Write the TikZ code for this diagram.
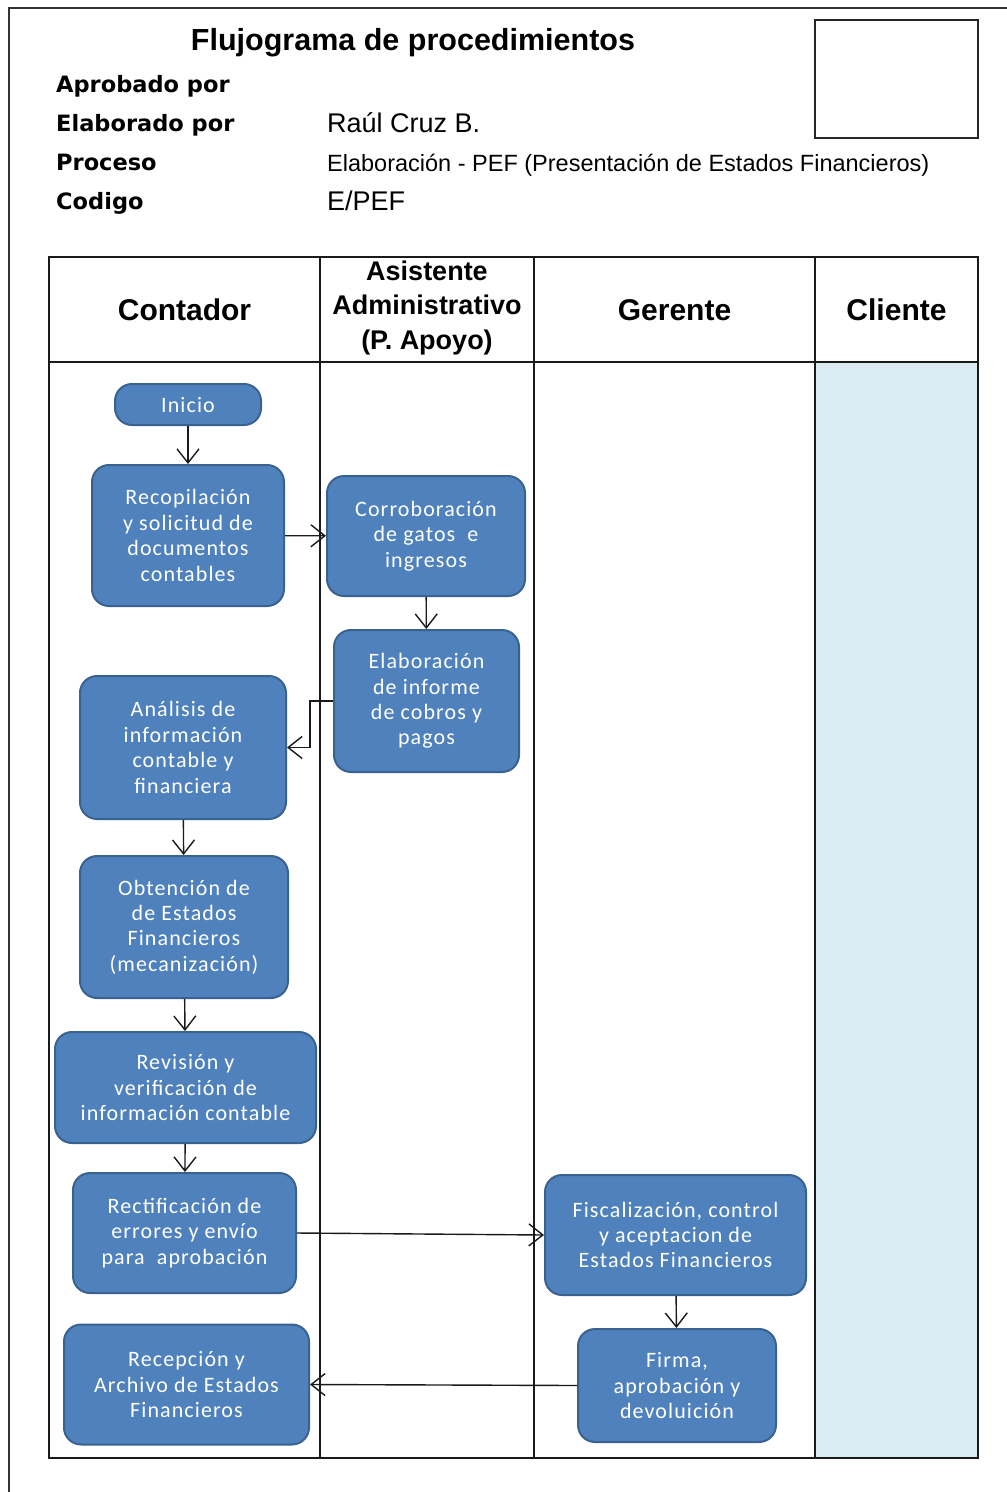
\documentclass[tikz,border=0pt]{standalone}
\usepackage{fontspec}
\usetikzlibrary{arrows.meta}
\setmainfont{Liberation Sans}
\newfontfamily\labelfont{DejaVu Sans}
\newfontfamily\boxfont[LetterSpace=5]{Carlito}
\definecolor{boxblue}{HTML}{4F81BD}
\definecolor{boxedge}{HTML}{3A6290}
\definecolor{clientfill}{HTML}{DAEBF2}
\definecolor{rulegray}{HTML}{1A1A1A}
\tikzset{
  proc/.style={rectangle, rounded corners=17pt, fill=boxblue, draw=boxedge,
    line width=2pt, text=white, align=center, inner sep=0pt,
    font=\boxfont\fontsize{22}{25.4}\selectfont},
  flow/.style={draw=rulegray, line width=1.4pt,
    -{Straight Barb[length=14pt,width=22pt]}},
  lane/.style={draw=rulegray, line width=1.8pt},
  headtxt/.style={font=\bfseries\fontsize{30}{34}\selectfont, align=center, inner sep=0pt},
  fieldname/.style={anchor=base west, inner sep=0pt,
    font=\labelfont\bfseries\fontsize{22.5}{26}\selectfont},
  fieldval/.style={anchor=base west, inner sep=0pt}
}
\begin{document}
\begin{tikzpicture}[x=1pt, y=-1pt]
\useasboundingbox (0,0) rectangle (1007,1492);

% page frame and logo box
\draw[draw=black!80, line width=2pt] (1007,8) -- (9,8) -- (9,1492);
\draw[draw=black!85, line width=2pt] (815,20) rectangle (978,138);

% document header
\node[anchor=base, inner sep=0pt, font=\bfseries\fontsize{30.5}{34}\selectfont] (title) at (413,50) {Flujograma de procedimientos};
\node[fieldname] (fa) at (56,92) {Aprobado por};
\node[fieldname] (fb) at (56,131) {Elaborado por};
\node[fieldname] (fc) at (56,170) {Proceso};
\node[fieldname] (fd) at (56,209) {Codigo};
\node[fieldval, font=\fontsize{27}{30}\selectfont] (vb) at (327,132) {Raúl Cruz B.};
\node[fieldval, font=\fontsize{23.5}{27}\selectfont] (vc) at (327,171) {Elaboración - PEF (Presentación de Estados Financieros)};
\node[fieldval, font=\fontsize{27}{30}\selectfont] (vd) at (327,210) {E/PEF};

% swimlane table
\fill[clientfill] (815,362) rectangle (978,1458);
\draw[lane] (49,257) rectangle (978,1458);
\draw[lane] (49,362) -- (978,362);
\draw[lane] (320,257) -- (320,1458);
\draw[lane] (534,257) -- (534,1458);
\draw[lane] (815,257) -- (815,1458);

\node[headtxt] (hcont) at (184.5,310) {Contador};
\node[headtxt, font=\bfseries\fontsize{27}{34.5}\selectfont] (hasis) at (427,308) {Asistente\\Administrativo\\(P. Apoyo)};
\node[headtxt] (hger) at (674.5,310) {Gerente};
\node[headtxt] (hcli) at (896.5,310) {Cliente};

% process steps
\node[proc, minimum width=146pt, minimum height=41pt] (inicio) at (188,404.5) {Inicio};
\node[proc, minimum width=192pt, minimum height=141pt] (recop) at (188,535.5) {Recopilación\\y solicitud de\\documentos\\contables};
\node[proc, minimum width=198pt, minimum height=120pt] (corro) at (426,536) {Corroboración\\de gatos\ \ e\\ingresos};
\node[proc, minimum width=185pt, minimum height=142pt] (elab) at (426.5,701) {Elaboración\\de informe\\de cobros y\\pagos};
\node[proc, minimum width=206pt, minimum height=143pt] (anal) at (183,747.5) {Análisis de\\información\\contable y\\financiera};
\node[proc, minimum width=208pt, minimum height=142pt] (obten) at (184,927) {Obtención de\\de Estados\\Financieros\\(mecanización)};
\node[proc, minimum width=261pt, minimum height=111pt] (revis) at (185.5,1087.5) {Revisión y\\verificación de\\información contable};
\node[proc, minimum width=223pt, minimum height=120pt] (rect) at (184.5,1233) {Rectificación de\\errores y envío\\para\ \ aprobación};
\node[proc, minimum width=245pt, minimum height=120pt] (recep) at (186.5,1384.5) {Recepción y\\Archivo de Estados\\Financieros};
\node[proc, minimum width=261pt, minimum height=120pt] (fisc) at (675.5,1235) {Fiscalización, control\\y aceptacion de\\Estados Financieros};
\node[proc, minimum width=198pt, minimum height=113pt] (firma) at (677,1385.5) {Firma,\\aprobación y\\devoluición};

% flow connectors
\draw[flow] (inicio) -- (recop);
\draw[flow] (recop) -- (corro);
\draw[flow] (corro) -- (elab);
\draw[flow] (elab.west) -- ++(-23,0) |- (anal.east);
\draw[flow] (anal) -- (obten);
\draw[flow] (obten) -- (revis);
\draw[flow] (revis) -- (rect);
\draw[flow] (rect.east) -- (fisc.west);
\draw[flow] (fisc) -- (firma);
\draw[flow] (firma.west) -- (recep.east);
\end{tikzpicture}
\end{document}
